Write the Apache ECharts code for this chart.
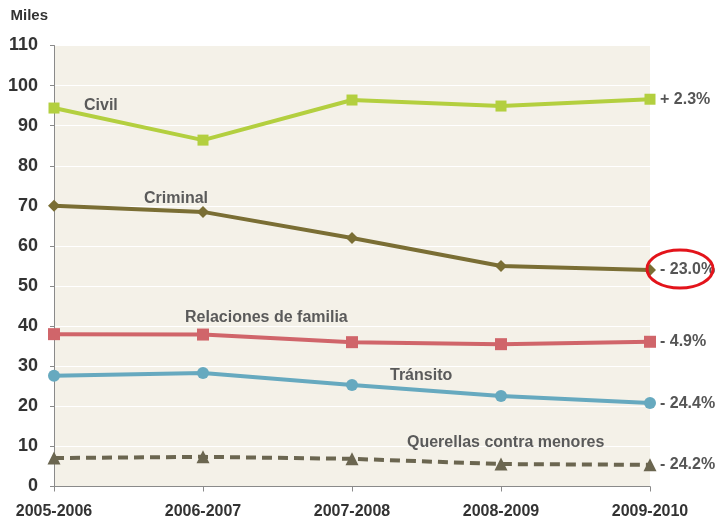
<!DOCTYPE html>
<html>
<head>
  <meta charset="utf-8">
  <title>Miles</title>
  <script src="https://cdn.jsdelivr.net/npm/echarts@6/dist/echarts.min.js"></script>
</head>
<body style="margin:0">
  <div id="main" style="width:719px;height:520px;"></div>
  <script type="text/javascript">
    var periodos = ['2005-2006', '2006-2007', '2007-2008', '2008-2009', '2009-2010'];
    var civil = [94.4, 86.4, 96.4, 94.9, 96.6];
    var criminal = [70.0, 68.5, 62.0, 55.0, 54.0];
    var familia = [38.0, 37.9, 36.0, 35.5, 36.1];
    var transito = [27.6, 28.3, 25.3, 22.6, 20.8];
    var querellas = [7.1, 7.4, 6.9, 5.6, 5.4];
    var cambios = ['+ 2.3%', '- 23.0%', '- 4.9%', '- 24.4%', '- 24.2%'];

    var font = '"Liberation Sans Narrow", "Liberation Sans", Arial, sans-serif';
    var myChart = echarts.init(document.getElementById('main'));

    function serie(nombre, datos, color, simbolo, tam, cambio, tipo) {
      return {
        name: nombre,
        type: 'line',
        data: datos,
        symbol: simbolo,
        symbolSize: tam,
        lineStyle: { color: color, width: 4, type: tipo || 'solid' },
        itemStyle: { color: color },
        endLabel: {
          show: true,
          formatter: cambio,
          distance: 10,
          color: '#555',
          fontFamily: font,
          fontWeight: 'bold',
          fontSize: 16
        },
        z: 3,
        animation: false
      };
    }

    function nota(texto, x, y) {
      return {
        type: 'text', left: x, top: y, z: 10,
        style: { text: texto, fill: '#5a5a5a', font: 'bold 16px ' + font }
      };
    }

    myChart.setOption({
      backgroundColor: '#fff',
      grid: { left: 54, right: 69, top: 45.5, bottom: 33.5, show: true, backgroundColor: '#f4f1e8', borderWidth: 0 },
      xAxis: {
        type: 'category',
        data: periodos,
        boundaryGap: false,
        axisLine: { lineStyle: { color: '#8a8a8a', width: 1 } },
        axisTick: { alignWithLabel: true, length: 5, lineStyle: { color: '#8a8a8a' } },
        axisLabel: { color: '#333', fontFamily: font, fontWeight: 'bold', fontSize: 16, margin: 17 }
      },
      yAxis: {
        type: 'value',
        min: 0, max: 110, interval: 10,
        name: 'Miles',
        nameLocation: 'end',
        nameGap: 22,
        nameTextStyle: { color: '#333', fontFamily: font, fontWeight: 'bold', fontSize: 15, align: 'right', padding: [0, 6, 0, 0] },
        axisLine: { show: true, lineStyle: { color: '#8a8a8a', width: 1 } },
        axisTick: { show: true, length: 4, lineStyle: { color: '#8a8a8a' } },
        splitLine: { lineStyle: { color: '#ffffff', width: 1 } },
        axisLabel: { color: '#333', fontFamily: font, fontWeight: 'bold', fontSize: 18, margin: 16 }
      },
      series: [
        serie('Civil', civil, '#b3cf3f', 'rect', 11, cambios[0]),
        serie('Criminal', criminal, '#7a6e34', 'diamond', 12, cambios[1]),
        serie('Relaciones de familia', familia, '#d0656a', 'rect', 12, cambios[2]),
        serie('Tránsito', transito, '#66a9bf', 'circle', 12, cambios[3]),
        serie('Querellas contra menores', querellas, '#6b6650', 'triangle', 13, cambios[4], [10, 6])
      ],
      graphic: [
        nota('Civil', 84, 98),
        nota('Criminal', 144, 191),
        nota('Relaciones de familia', 185, 310),
        nota('Tránsito', 390, 368),
        nota('Querellas contra menores', 407, 435),
        {
          type: 'ellipse',
          z: 10,
          shape: { cx: 680, cy: 269, rx: 33, ry: 19 },
          style: { fill: 'none', stroke: '#e3141b', lineWidth: 3 }
        }
      ]
    });
  </script>
</body>
</html>
